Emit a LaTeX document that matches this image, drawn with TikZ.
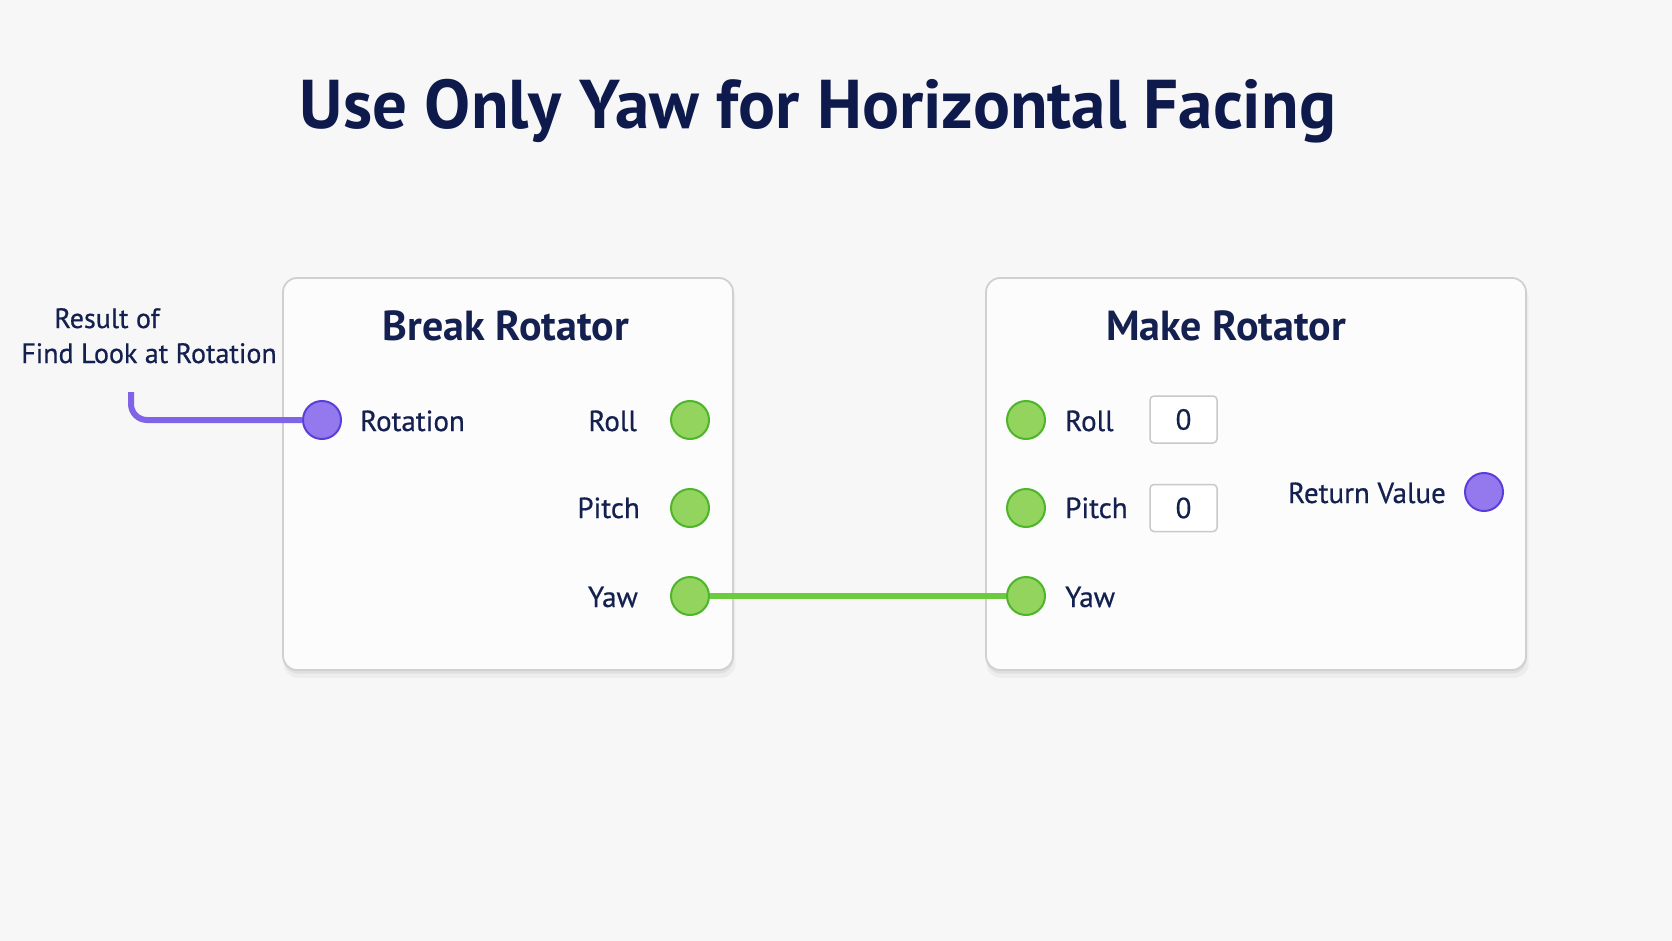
\documentclass[tikz,border=0pt]{standalone}
\usepackage{fontspec}
\setmainfont{PT Sans}
\newfontfamily\medfont{PT Sans}[FakeBold=0.6]
\usetikzlibrary{shadows}
\definecolor{bg}{HTML}{F7F7F7}
\definecolor{ink}{HTML}{14204F}
\definecolor{titleink}{HTML}{0E1A4B}
\definecolor{boxfill}{HTML}{FCFCFC}
\definecolor{boxedge}{HTML}{D0D0D0}
\definecolor{gfill}{HTML}{93D45E}
\definecolor{gedge}{HTML}{4DB52A}
\definecolor{pfill}{HTML}{9479EE}
\definecolor{pedge}{HTML}{5A3ED8}
\definecolor{gwirec}{HTML}{6DCB3E}
\definecolor{pwirec}{HTML}{7F64E8}
\definecolor{valedge}{HTML}{C9C9C9}
\begin{document}
\begin{tikzpicture}[x=1pt,y=-1pt,
  nodebox/.style={draw=boxedge, line width=1.8, fill=boxfill, rounded corners=14, inner sep=0,
    general shadow={fill=black, opacity=0.04, shadow xshift=1.5pt, shadow yshift=-7pt, shadow scale=1.004},
    general shadow={fill=black, opacity=0.06, shadow xshift=0.5pt, shadow yshift=-3.5pt}},
  lbl/.style={font=\medfont\fontsize{29}{32}\selectfont, text=ink, inner sep=0},
  hdr/.style={font=\bfseries\fontsize{42}{45}\selectfont, text=ink, inner sep=0, anchor=base},
  gpin/.style={circle, draw=gedge, fill=gfill, line width=2, minimum size=38, inner sep=0},
  ppin/.style={circle, draw=pedge, fill=pfill, line width=2, minimum size=38, inner sep=0},
  valbox/.style={draw=valedge, line width=1.5, fill=white, rounded corners=4, minimum width=67, minimum height=47, inner sep=0, font=\medfont\fontsize{29}{32}\selectfont, text=ink},
  gwire/.style={draw=gwirec, line width=6},
  pwire/.style={draw=pwirec, line width=6, rounded corners=16}
]
\useasboundingbox (0,0) rectangle (1672,941);
\fill[bg] (0,0) rectangle (1672,941);

\node[font=\bfseries\fontsize{69}{72}\selectfont, text=titleink, inner sep=0, anchor=base] (title) at (818,129) {Use Only Yaw for Horizontal Facing};

% boxes
\node[nodebox, minimum width=450, minimum height=392] (brk) at (508,474) {};
\node[nodebox, minimum width=540, minimum height=392] (mk) at (1256,474) {};

\node[hdr] (brkt) at (506,340) {Break Rotator};
\node[hdr] (mkt) at (1226,340) {Make Rotator};

% break rotator pins
\node[ppin] (rot) at (322,420) {};
\node[lbl, anchor=base west] (rotl) at (360,431) {Rotation};
\node[gpin] (broll) at (690,420) {};
\node[gpin] (bpitch) at (690,508) {};
\node[gpin] (byaw) at (690,596) {};
\node[lbl, anchor=base east] (brolll) at (637,431) {Roll};
\node[lbl, anchor=base east] (bpitchl) at (640,518) {Pitch};
\node[lbl, anchor=base east] (byawl) at (638,607) {Yaw};

% make rotator pins
\node[gpin] (mroll) at (1026,420) {};
\node[gpin] (mpitch) at (1026,508) {};
\node[gpin] (myaw) at (1026,596) {};
\node[lbl, anchor=base west] (mrolll) at (1065,431) {Roll};
\node[lbl, anchor=base west] (mpitchl) at (1065,518) {Pitch};
\node[lbl, anchor=base west] (myawl) at (1065,607) {Yaw};
\node[valbox] (rollv) at (1183.5,419.5) {0};
\node[valbox] (pitchv) at (1183.5,508) {0};
\node[ppin] (ret) at (1484,492) {};
\node[lbl, anchor=base east] (retl) at (1446,503) {Return Value};

% source label
\node[lbl, font=\medfont\fontsize{28}{30}\selectfont, anchor=base] (src1) at (107,328) {Result of};
\node[lbl, font=\medfont\fontsize{28}{30}\selectfont, anchor=base] (src2) at (149,363) {Find Look at Rotation};
\coordinate (srcend) at (131,392);

% wires
\draw[pwire] (srcend) |- (rot.west);
\draw[gwire] (byaw.east) -- (myaw.west);
\end{tikzpicture}
\end{document}
